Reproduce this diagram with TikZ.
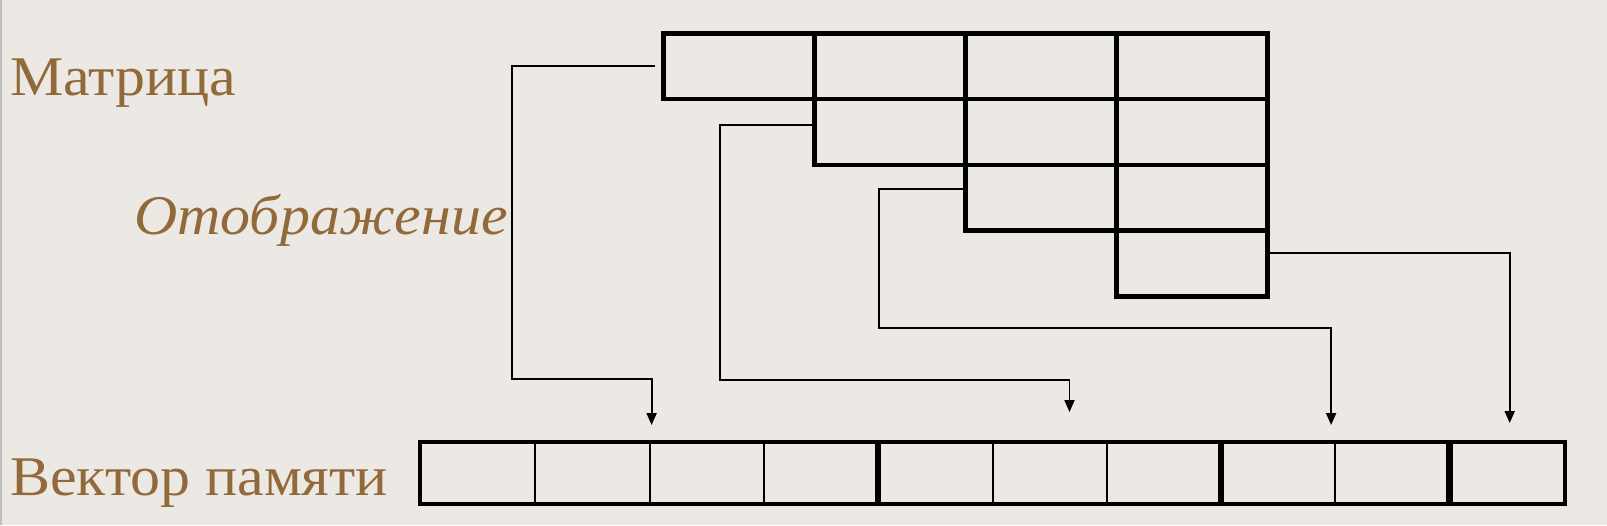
\documentclass[tikz,border=0pt]{standalone}
\usepackage{fontspec}
\setmainfont[FakeStretch=1.07]{Liberation Serif}
\usetikzlibrary{arrows.meta,calc}

\definecolor{slidebg}{RGB}{236,232,228}
\definecolor{labelbrown}{RGB}{146,106,58}

\begin{document}
\begin{tikzpicture}[
    x=1pt,y=-1pt,
    cell/.style={draw,line width=4.5pt,minimum width=151pt,minimum height=65.75pt,
      inner sep=0pt,anchor=north west},
    slot/.style={draw,line width=2pt,minimum width=114.3pt,minimum height=60pt,
      inner sep=0pt,anchor=north west},
    link/.style={line width=1.9pt,-{Triangle[length=12pt,width=10pt]}},
    caption/.style={text=labelbrown,anchor=base west,inner sep=0pt,
      font=\fontsize{56}{60}\selectfont}]
  \useasboundingbox (0,0) rectangle (1607,525);
  \fill[slidebg] (0,0) rectangle (1607,525);
  \draw[black!25,line width=1.5pt] (1,0) -- (1,525);
  % upper triangle of the matrix
  \foreach \r in {1,...,4}
    \foreach \c in {\r,...,4}
      \node[cell] (m\r\c) at ({661+151*(\c-1)},{31+65.75*(\r-1)}) {};
  % memory vector
  \foreach \i in {1,...,10}
    \node[slot] (v\i) at ({420+114.3*(\i-1)},442) {};
  \draw[line width=4.5pt] (v1.north west) rectangle (v4.south east);
  \draw[line width=4.5pt] (v5.north west) rectangle (v7.south east);
  \draw[line width=4.5pt] (v8.north west) rectangle (v9.south east);
  \draw[line width=4.5pt] (v10.north west) rectangle (v10.south east);
  \node[caption] (mat) at (10,95) {Матрица};
  \node[caption,font=\fontsize{56}{60}\selectfont\itshape] (map) at (134,234) {Отображение};
  \node[caption] (vec) at (10,495) {Вектор памяти};
  % ends of the arrows
  \coordinate (in1) at ($(v3.north west)+(3,-17)$);
  \coordinate (in2) at ($(v6.north west)+(78,-30)$);
  \coordinate (in3) at ($(v8.north west)+(111,-17)$);
  \coordinate (in4) at ($(v10.north west)+(61,-19)$);
  \draw[link] ($(m11.west)+(-6,0)$) -- ++(-143,0) -- ++(0,313) -| (in1);
  \draw[link] ($(m22.west)+(0,-7)$) -- ++(-92,0) -- ++(0,255) -| (in2);
  \draw[link] ($(m33.west)+(0,-9)$) -- ++(-84,0) -- ++(0,139) -| (in3);
  \draw[link] ($(m44.east)+(-4,-10)$) -| (in4);
\end{tikzpicture}
\end{document}
